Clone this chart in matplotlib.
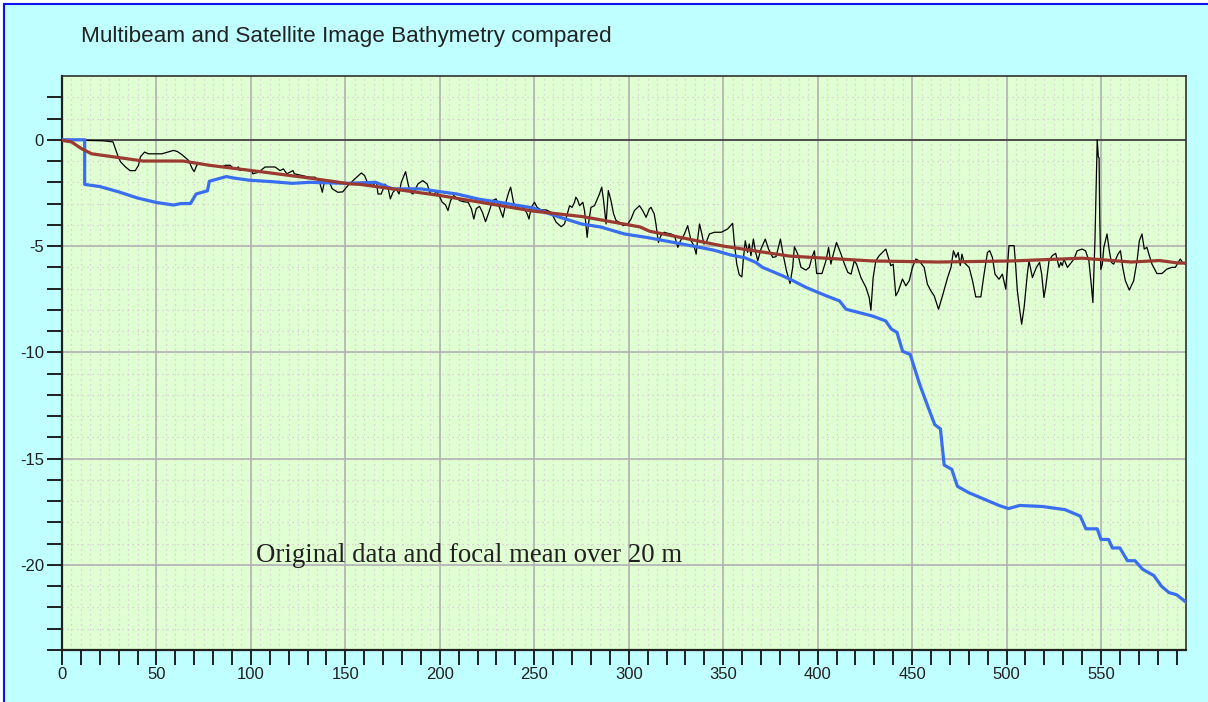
import numpy as np
import matplotlib
matplotlib.use("Agg")
import matplotlib.pyplot as plt
from matplotlib.ticker import MultipleLocator, FixedLocator, FixedFormatter
from matplotlib.patches import Rectangle
from matplotlib.lines import Line2D

# satellite image bathymetry (blue, stepped line)
satX = [0, 12, 12, 20, 30, 40, 50, 59, 63, 68, 71, 77, 78, 87, 91, 99, 111, 122,
        131, 150, 166, 175, 190, 200, 209, 221, 231.6, 242, 249, 262, 275, 285,
        297.7, 310, 322, 331, 345, 354, 361.5, 367.3, 370.8, 381.5, 387, 394,
        404.6, 411.6, 415, 422, 429, 436, 439, 442, 445, 449, 454, 459, 462, 465,
        467, 471, 474, 480, 488, 496, 501, 507, 519, 531, 539, 542, 548, 550,
        554, 556, 560, 564, 568, 572, 578, 582, 586, 590, 595]
satY = [0, 0, -2.1, -2.2, -2.45, -2.74, -2.95, -3.07, -3.0, -3.0, -2.55, -2.4,
        -1.95, -1.73, -1.8, -1.9, -1.97, -2.05, -2.0, -2.05, -2.0, -2.31, -2.31,
        -2.44, -2.55, -2.8, -2.94, -3.1, -3.2, -3.6, -3.96, -4.1, -4.43, -4.6,
        -4.8, -4.95, -5.19, -5.42, -5.55, -5.77, -6.0, -6.4, -6.63, -6.95, -7.34,
        -7.58, -7.97, -8.13, -8.29, -8.52, -8.9, -9.06, -9.95, -10.1, -11.5,
        -12.7, -13.4, -13.6, -15.3, -15.5, -16.3, -16.6, -16.9, -17.2, -17.35,
        -17.2, -17.25, -17.4, -17.7, -18.3, -18.3, -18.8, -18.8, -19.2, -19.2,
        -19.8, -19.8, -20.2, -20.5, -21.0, -21.3, -21.4, -21.75]

# focal mean over 20 m (brown line)
meanX = [0, 5, 10.4, 15.7, 31, 43, 64, 78, 105, 131, 152, 158, 200, 249, 276,
         306, 311, 350, 385, 429, 464, 503, 540, 566, 581, 591, 595]
meanY = [-0.03, -0.1, -0.42, -0.66, -0.85, -1.0, -1.0, -1.2, -1.5, -1.8, -2.07,
         -2.1, -2.62, -3.35, -3.62, -4.1, -4.3, -5.0, -5.47, -5.7, -5.75, -5.7,
         -5.57, -5.75, -5.68, -5.8, -5.8]

# original multibeam data (thin black line)
origX = [0, 14, 22, 27, 29.5, 31, 33.5, 36, 38.8, 40.5, 41.5, 43.7, 45.8, 52.9,
         59, 61, 63.5, 67, 69, 70, 71.3, 73, 75, 78.4, 84.6, 86.4, 89, 91, 93.4,
         94.3, 96, 98.6, 100.4, 101, 104, 107.5, 112.8, 115.4, 117.2, 119, 120.6,
         122.3, 123, 131, 134, 136.4, 137.8, 139, 141.7, 143, 146, 148.6, 151.4,
         155, 158.5, 160.2, 162, 164.6, 166.4, 167.3, 169, 171, 172.7, 173.8,
         175.2, 177, 178.4, 179.6, 181.9, 183.2, 184.4, 185.8, 188.4, 191, 193.3,
         194.7, 196.4, 198.2, 199.6, 201.3, 203, 204.3, 205.7, 207.3, 210.5,
         212.3, 215, 216.7, 218, 219.3, 221, 222.5, 224.2, 226, 228, 229.8, 231.5,
         233.4, 235.2, 236.6, 237.5, 239, 240.5, 242.2, 244.5, 246.3, 247.2,
         248.4, 250.1, 251.5, 253.6, 256.3, 258.9, 261.6, 264.3, 266, 268.7, 270,
         271.3, 272, 272.9, 274, 275.7, 276.6, 278, 278.7, 280, 281.9, 284.5,
         285.7, 286.7, 288, 289.2, 290.6, 292, 293.3, 295, 297, 299.5, 301.2, 303,
         305.7, 307.4, 309.2, 310.9, 311.8, 313.5, 314.4, 315.7, 317, 318.8,
         320.6, 322.4, 324.2, 326, 327.4, 329.5, 331.2, 333, 334.5, 335.7, 336.6,
         337.5, 338.7, 339.8, 341, 342.7, 345.4, 349, 352.3, 355, 355.8, 357.2,
         358.5, 359.9, 360.6, 361.7, 362.9, 363.8, 364.7, 366, 367, 368.3, 370,
         372.3, 374, 376.2, 378, 380.3, 381.7, 383.5, 385.4, 386.8, 387.7, 389.5,
         391.2, 393.8, 395.6, 397, 398.3, 399.5, 402.3, 404.4, 405.8, 407, 408.3,
         410, 412.4, 414.2, 416, 417.7, 419.4, 420.6, 422.9, 425.6, 427.3, 428.2,
         429.4, 430.8, 432.6, 436.1, 438.7, 440, 441.4, 442.8, 444.9, 446.7,
         448.5, 450.2, 452, 453.7, 456.4, 458.1, 459.9, 461.7, 464, 466.1, 468.8,
         470.6, 471.9, 473.2, 474.4, 475.5, 476.4, 477.5, 480.2, 482, 483.7,
         486.4, 488.1, 489.9, 491.1, 492.5, 493.9, 496, 497.8, 499.6, 501.3, 504,
         504.9, 505.7, 506.6, 508, 509.3, 511, 511.9, 513.7, 515.8, 517.5, 518.6,
         519.8, 520.7, 522.5, 524.2, 526, 527.8, 528.7, 529.5, 530.4, 532.2, 533,
         535.7, 537.4, 540, 541.8, 543.6, 545, 545.7, 546.8, 547.5, 548, 548.6,
         549, 549.3, 549.9, 550.7, 551.5, 553.2, 554.4, 555.5, 556.7, 557.9, 559,
         560.3, 561.5, 562.9, 565, 567.3, 569.1, 570.3, 571.7, 572.9, 574.3,
         575.6, 577, 579.6, 582.3, 584.9, 587.6, 589.4, 590.8, 592, 593.2, 594.6]
origY = [0, -0.03, -0.05, -0.1, -0.74, -1.04, -1.27, -1.45, -1.45, -1.2, -0.8,
         -0.58, -0.66, -0.66, -0.5, -0.55, -0.7, -0.97, -1.37, -1.5, -1.2, -1.1,
         -1.15, -1.2, -1.28, -1.2, -1.2, -1.37, -1.28, -1.45, -1.37, -1.45, -1.45,
         -1.6, -1.53, -1.28, -1.28, -1.45, -1.37, -1.6, -1.53, -1.45, -1.6, -1.76,
         -1.76, -2.0, -2.47, -1.92, -2.0, -2.3, -2.47, -2.45, -2.15, -1.84, -1.56,
         -1.69, -2.08, -2.15, -1.97, -2.55, -2.55, -2.08, -2.31, -2.78, -2.47,
         -2.31, -2.55, -2.0, -1.5, -2.08, -2.47, -2.55, -2.08, -1.92, -2.08,
         -2.47, -2.62, -2.44, -2.62, -2.94, -3.06, -3.33, -2.86, -2.62, -2.86,
         -2.91, -2.94, -3.24, -3.73, -3.24, -3.13, -3.4, -3.85, -3.4, -2.86,
         -2.78, -3.17, -3.65, -2.86, -2.44, -2.23, -2.94, -3.25, -3.1, -3.2,
         -3.49, -3.73, -3.18, -2.94, -3.18, -3.3, -3.3, -3.41, -3.88, -4.09,
         -3.96, -3.1, -3.18, -2.94, -2.7, -2.82, -3.1, -2.94, -3.33, -4.59, -3.96,
         -3.18, -3.1, -2.55, -2.23, -2.86, -3.96, -2.39, -2.86, -3.49, -3.8,
         -3.88, -4.04, -3.96, -3.73, -3.33, -3.1, -3.33, -3.65, -3.25, -3.18,
         -3.49, -3.96, -4.83, -4.51, -4.35, -4.4, -4.43, -4.51, -5.06, -4.75,
         -4.43, -4.04, -4.75, -4.98, -5.38, -4.59, -3.96, -4.43, -4.9, -4.83,
         -4.43, -4.35, -4.35, -4.2, -3.93, -4.75, -5.85, -6.35, -6.45, -5.69,
         -4.75, -5.3, -4.9, -5.45, -4.67, -5.22, -5.69, -5.14, -4.67, -5.14,
         -5.53, -5.5, -4.67, -5.38, -6.16, -6.76, -6.0, -5.03, -5.38, -6.0, -6.13,
         -6.0, -5.53, -5.22, -6.29, -6.29, -5.69, -5.06, -5.85, -5.38, -4.83,
         -5.38, -5.85, -6.24, -6.32, -5.69, -5.85, -6.48, -6.95, -7.42, -8.02,
         -6.48, -5.69, -5.45, -5.14, -5.92, -5.85, -7.34, -7.1, -6.55, -6.87,
         -6.63, -6.0, -5.61, -5.69, -6.0, -6.79, -7.1, -7.34, -7.97, -7.34, -6.48,
         -6.0, -5.22, -5.53, -5.3, -5.92, -5.38, -5.77, -6.0, -6.63, -7.39, -7.39,
         -6.32, -5.3, -5.22, -5.53, -6.32, -6.56, -6.32, -7.03, -4.98, -4.98,
         -6.0, -7.09, -7.74, -8.68, -7.89, -6.32, -5.69, -6.48, -6.0, -5.77,
         -6.32, -7.42, -6.95, -5.69, -5.45, -5.34, -6.0, -5.77, -5.92, -5.61,
         -6.0, -5.92, -5.61, -5.22, -5.14, -5.22, -5.69, -6.95, -7.66, -4.75,
         -1.92, 0.0, -0.82, -0.85, -3.49, -6.1, -5.85, -5.06, -4.43, -5.22, -5.77,
         -5.85, -5.61, -5.38, -5.22, -6.0, -6.63, -7.07, -6.63, -5.69, -4.75,
         -4.43, -5.14, -5.06, -5.45, -5.85, -6.29, -6.29, -6.08, -6.0, -6.0,
         -5.77, -5.61, -5.77, -5.85]

xTickLabels = ["0", "50", "100", "150", "200", "250", "300", "350", "400", "450",
               "500", "550"]
yTickLabels = ["-20", "-15", "-10", "-5", "0"]

titleText = "Multibeam and Satellite Image Bathymetry compared"
noteText = "Original data and focal mean over 20 m"


def createChart():
    # figure size in pixels at 100 dpi
    fig = plt.figure(figsize=(12.08, 7.02), dpi=100, facecolor="#C0FFFF")

    # window frame: thin white margin and a blue line on the left and top
    fig.add_artist(Rectangle((0, 0), 3 / 1208, 1, transform=fig.transFigure,
                             facecolor="white", edgecolor="none"))
    fig.add_artist(Rectangle((0, 1 - 3 / 702), 1, 3 / 702,
                             transform=fig.transFigure,
                             facecolor="white", edgecolor="none"))
    fig.add_artist(Line2D([4 / 1208, 4 / 1208], [0, 1 - 4 / 702],
                          transform=fig.transFigure, color="#1010F0", lw=1.5))
    fig.add_artist(Line2D([4 / 1208, 1], [1 - 4 / 702, 1 - 4 / 702],
                          transform=fig.transFigure, color="#1010F0", lw=1.5))

    ax = fig.add_axes([62 / 1208, 52 / 702, 1124 / 1208, 574 / 702])
    ax.set_facecolor("#E0FFD2")
    ax.set_xlim(0, 595)
    ax.set_ylim(-24, 3)

    # dotted minor grid every 5 m across, every 1 m down
    for gx in np.arange(5, 595, 5):
        ax.axvline(gx, color="#D8C6D6", lw=0.9, ls=(0, (1, 3)), zorder=0.5)
    for gy in np.arange(-23, 3, 1):
        ax.axhline(gy, color="#D8C6D6", lw=0.9, ls=(0, (1, 3)), zorder=0.5)
    # solid major grid
    for gx in np.arange(50, 595, 50):
        ax.axvline(gx, color="#B2B2B2", lw=1.2, zorder=0.6)
    for gy in np.arange(-20, 1, 5):
        ax.axhline(gy, color="#B2B2B2", lw=1.2, zorder=0.6)
    # the zero line is drawn dark
    ax.axhline(0, color="#303030", lw=1.1, zorder=0.7)

    ax.plot(origX, origY, color="black", lw=0.9, zorder=3)
    ax.plot(satX, satY, color="#3A6EF0", lw=2.3, zorder=4)
    ax.plot(meanX, meanY, color="#9A3A30", lw=2.3, zorder=5)

    # ticks
    ax.xaxis.set_major_locator(FixedLocator(np.arange(0, 551, 50)))
    ax.xaxis.set_major_formatter(FixedFormatter(xTickLabels))
    ax.xaxis.set_minor_locator(MultipleLocator(10))
    ax.yaxis.set_major_locator(FixedLocator(np.arange(-20, 1, 5)))
    ax.yaxis.set_major_formatter(FixedFormatter(yTickLabels))
    ax.yaxis.set_minor_locator(FixedLocator(np.arange(-24, 3, 1)))
    ax.tick_params(which="both", direction="out", length=11, width=1.4,
                   color="#202020")
    ax.tick_params(axis="x", which="major", pad=1, labelsize=12,
                   labelcolor="#202020")
    ax.tick_params(axis="y", which="major", pad=2, labelsize=12,
                   labelcolor="#202020")
    for lab in ax.get_xticklabels() + ax.get_yticklabels():
        lab.set_fontfamily("Liberation Sans")

    for side in ["left", "bottom"]:
        ax.spines[side].set_color("#202020")
        ax.spines[side].set_linewidth(1.6)
    for side in ["top", "right"]:
        ax.spines[side].set_color("#303030")
        ax.spines[side].set_linewidth(1.2)

    fig.text(81 / 1208, 1 - 41.7 / 702, titleText, fontsize=16.2,
             family="Liberation Sans", color="#222222", va="baseline",
             ha="left")
    ax.text(102.6, -19.88, noteText, fontsize=19.3, family="Liberation Serif",
            color="#202020", va="baseline", ha="left", zorder=6)

    fig.savefig("out.png", dpi=100, facecolor=fig.get_facecolor())
    plt.close(fig)


if __name__ == '__main__':
    createChart()
